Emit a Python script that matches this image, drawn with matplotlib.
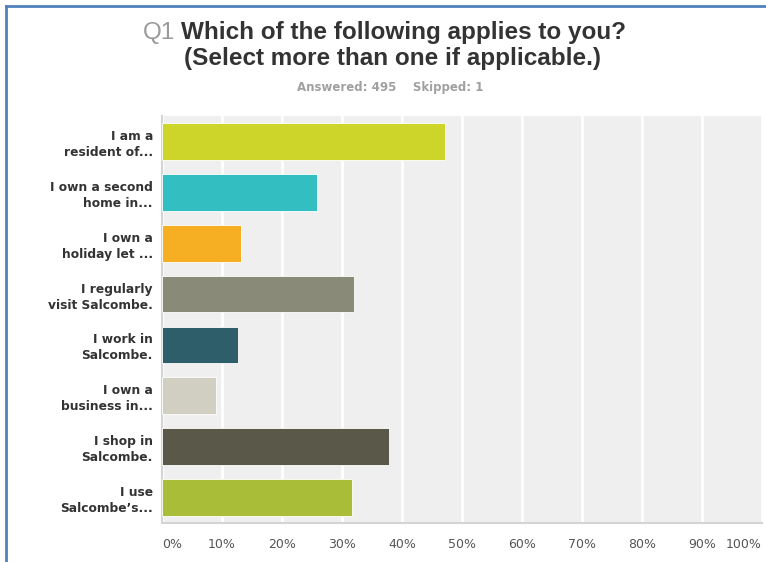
import matplotlib.pyplot as plt
from matplotlib.lines import Line2D

# survey answers, top to bottom
labels = ['I am a\nresident of...', 'I own a second\nhome in...', 'I own a\nholiday let ...',
          'I regularly\nvisit Salcombe.', 'I work in\nSalcombe.', 'I own a\nbusiness in...',
          'I shop in\nSalcombe.', 'I use\nSalcombe\u2019s...']
percent = [47.2, 25.8, 13.2, 32.0, 12.7, 9.0, 37.8, 31.7]
ticks = [0, 10, 20, 30, 40, 50, 60, 70, 80, 90, 100]
tick_labels = ['0%', '10%', '20%', '30%', '40%', '50%', '60%', '70%', '80%', '90%', '100%']

colors = ['#cdd42a', '#33bec1', '#f6ae22', '#898a78', '#2e5e6a', '#d0cfc1', '#5a5849', '#a9bd38']

plt.rcParams['font.family'] = ['Liberation Sans', 'DejaVu Sans']

fig = plt.figure(figsize=(7.66, 5.62), dpi=100)
ax = fig.add_axes([162 / 766, 1 - 523 / 562, 600 / 766, 407 / 562])
ax.set_facecolor('#efefef')

ypos = list(range(len(labels)))
ax.barh(ypos, percent, height=0.72, color=colors, edgecolor='white', linewidth=0.6, zorder=3)
ax.set_ylim(len(labels) - 0.5, -0.5)
ax.set_xlim(0, 100)

ax.set_xticks(ticks)
ax.set_xticklabels(tick_labels, color='#555555', fontsize=9, family='DejaVu Sans')
for t, lab in zip(ticks, ax.get_xticklabels()):
    if t == 0:
        lab.set_horizontalalignment('left')
    elif t == 100:
        lab.set_horizontalalignment('right')
ax.tick_params(axis='x', length=0, pad=11)
ax.grid(axis='x', color='white', linewidth=2, zorder=1)

ax.set_yticks(ypos)
ax.set_yticklabels(labels, fontsize=8.8, fontweight='bold', color='#333333',
                   family='DejaVu Sans', linespacing=1.3)
ax.tick_params(axis='y', length=0, pad=6.5)

for s in ['top', 'right']:
    ax.spines[s].set_visible(False)
for s in ['left', 'bottom']:
    ax.spines[s].set_color('#d4d4d4')
    ax.spines[s].set_linewidth(1.5)

# titles
t1 = fig.text(143 / 766, 1 - 33 / 562, 'Q1', ha='left', va='center', fontsize=17.5, color='#9a9a9a')
fig.canvas.draw()
bb = t1.get_window_extent()
fig.text((bb.x1 + 6) / 766, 1 - 33 / 562, 'Which of the following applies to you?', ha='left',
         va='center', fontsize=17.5, fontweight='bold', color='#333333')
fig.text(392 / 766, 1 - 58 / 562, '(Select more than one if applicable.)', ha='center', va='center',
         fontsize=17.5, fontweight='bold', color='#333333')
fig.text(390 / 766, 1 - 88 / 562, 'Answered: 495    Skipped: 1', ha='center', va='center',
         fontsize=8.5, fontweight='bold', color='#a0a0a0', family='DejaVu Sans')

# blue frame on left and top
fig.add_artist(Line2D([6 / 766, 6 / 766], [0, 1 - 6 / 562], transform=fig.transFigure,
                      color='#4f81bd', linewidth=2))
fig.add_artist(Line2D([6 / 766, 1], [1 - 6 / 562, 1 - 6 / 562], transform=fig.transFigure,
                      color='#4f81bd', linewidth=2))

fig.savefig('out.png', dpi=100)
